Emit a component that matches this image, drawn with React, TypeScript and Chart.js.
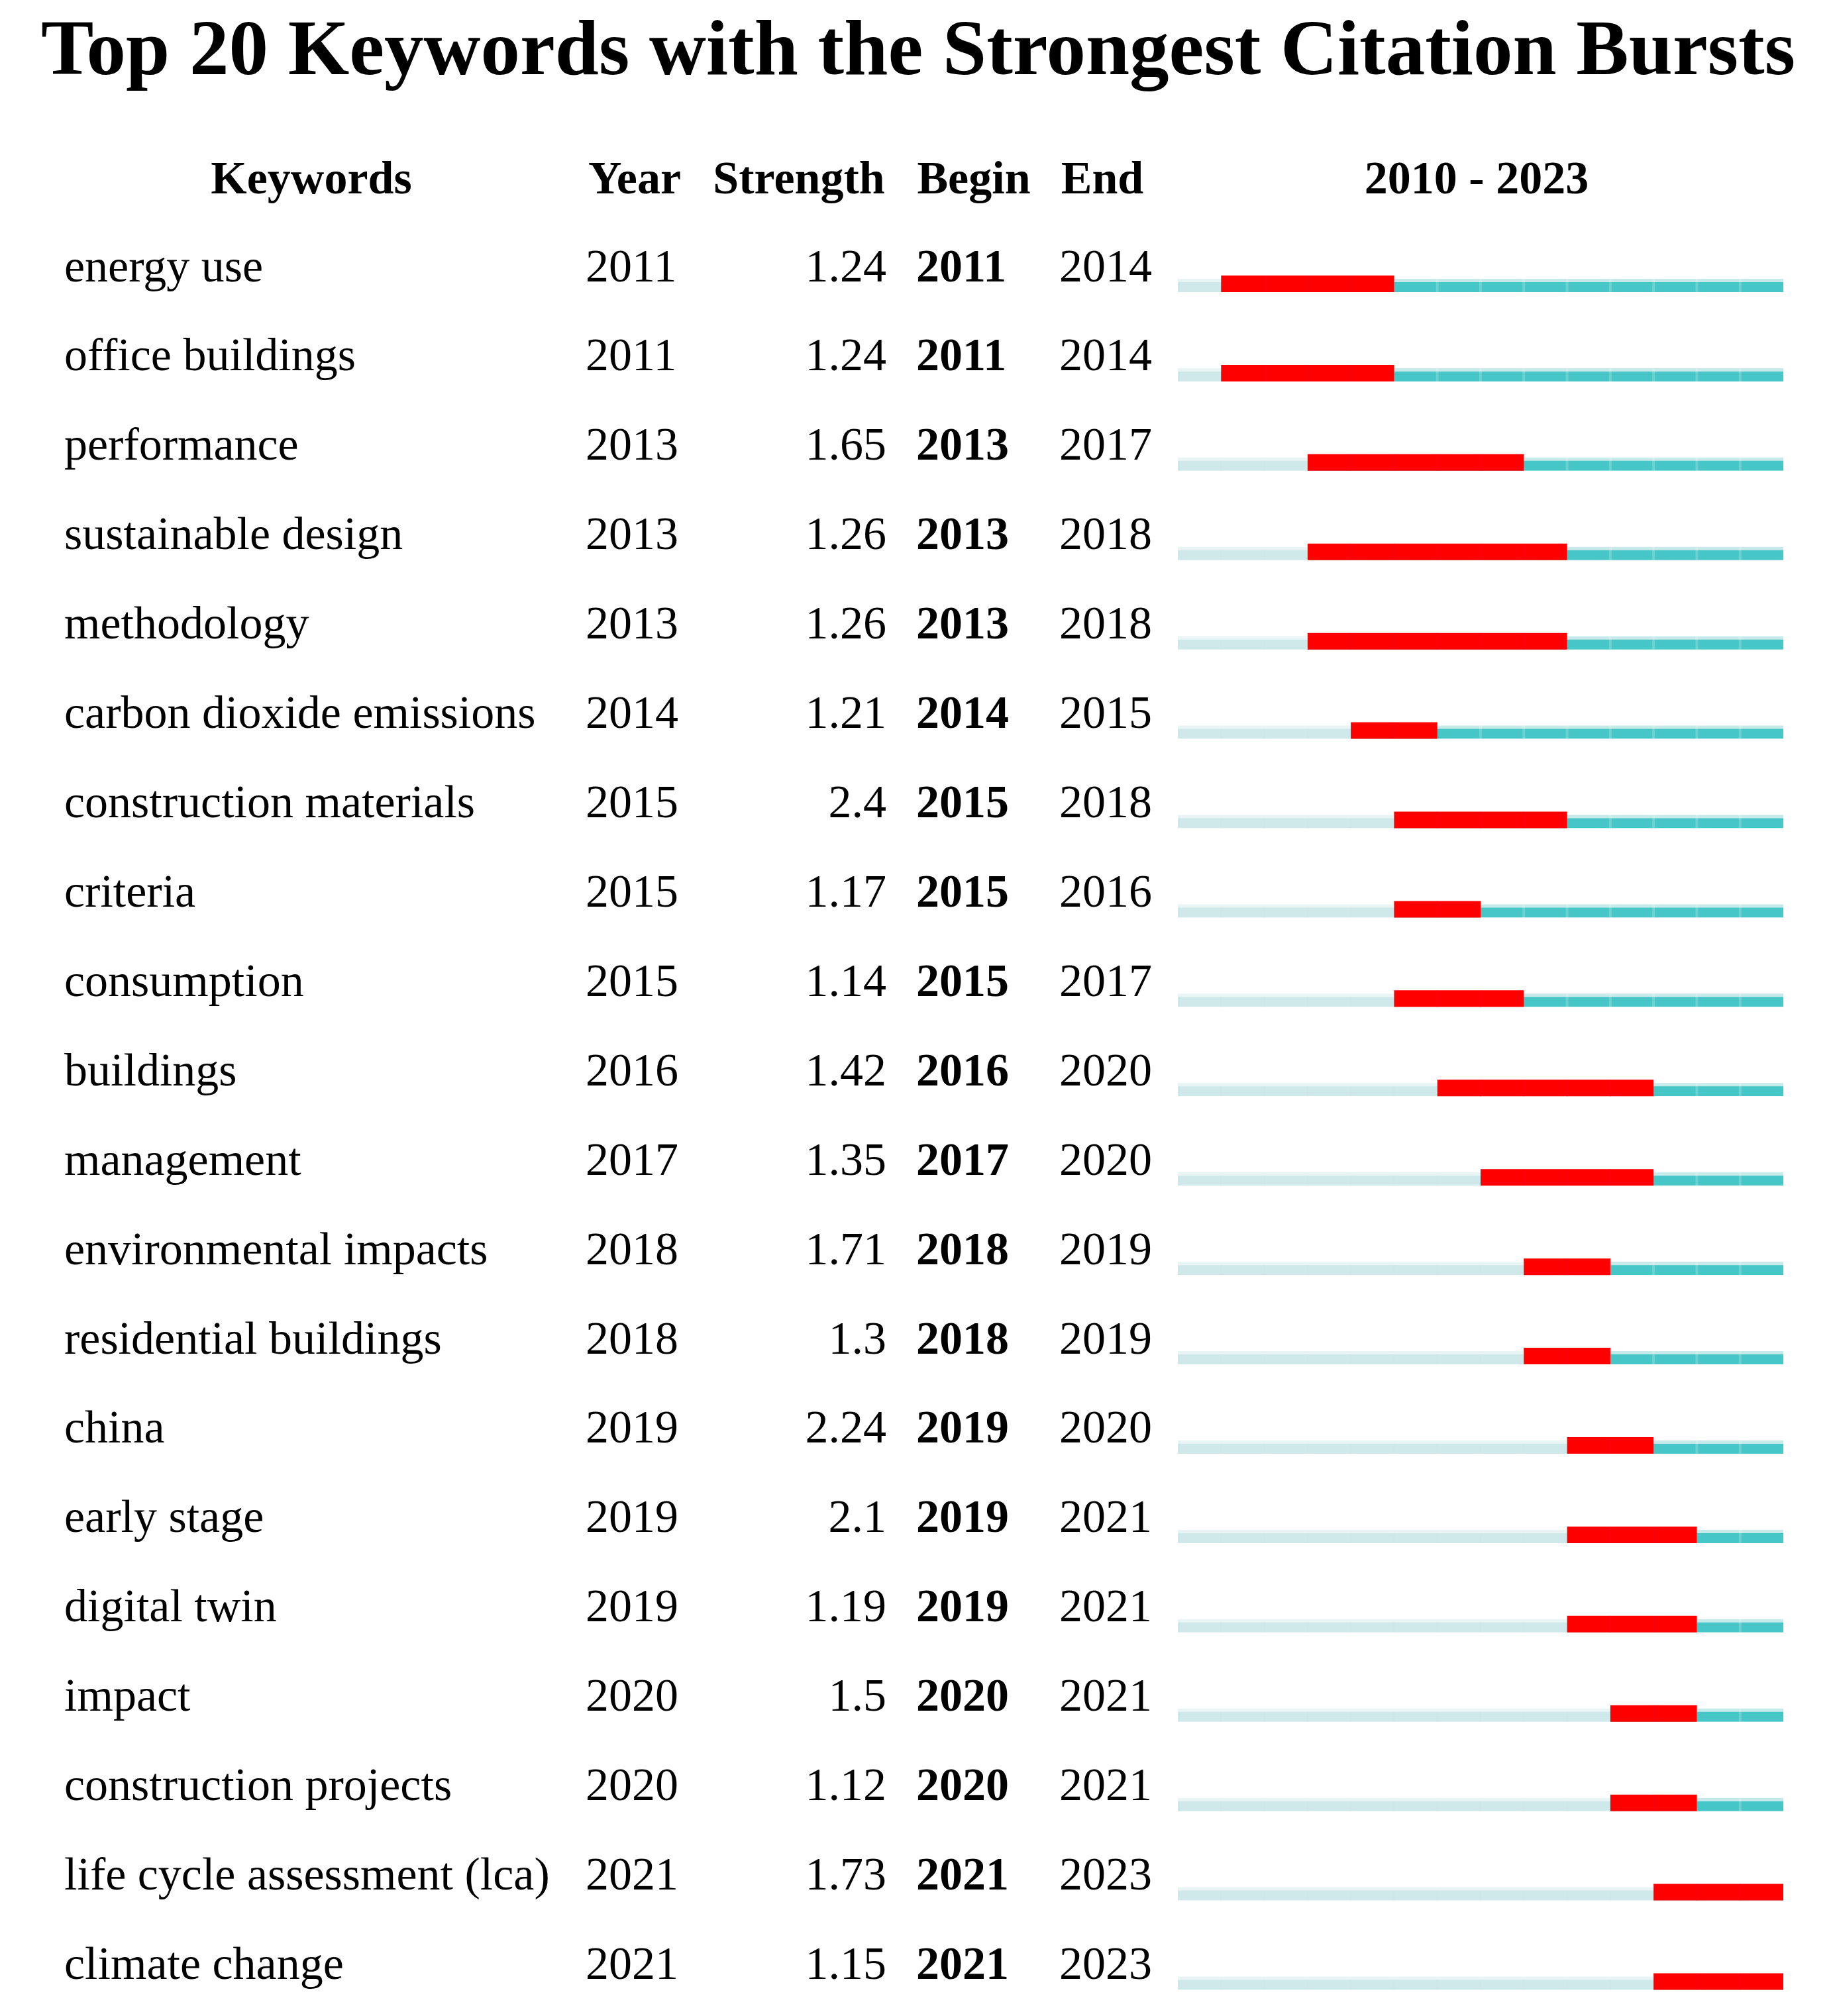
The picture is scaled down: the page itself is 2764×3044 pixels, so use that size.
import React, { useEffect, useRef } from "react";
import { Chart, registerables } from "chart.js";

Chart.register(...registerables);

const TITLE = "Top 20 Keywords with the Strongest Citation Bursts";
const headerLabels = ["Keywords", "Year", "Strength", "Begin", "End", "2010 - 2023"];

const keywords = [
  "energy use",
  "office buildings",
  "performance",
  "sustainable design",
  "methodology",
  "carbon dioxide emissions",
  "construction materials",
  "criteria",
  "consumption",
  "buildings",
  "management",
  "environmental impacts",
  "residential buildings",
  "china",
  "early stage",
  "digital twin",
  "impact",
  "construction projects",
  "life cycle assessment (lca)",
  "climate change",
];
const years = [2011, 2011, 2013, 2013, 2013, 2014, 2015, 2015, 2015, 2016, 2017, 2018, 2018, 2019, 2019, 2019, 2020, 2020, 2021, 2021];
const strengths = ["1.24", "1.24", "1.65", "1.26", "1.26", "1.21", "2.4", "1.17", "1.14", "1.42", "1.35", "1.71", "1.3", "2.24", "2.1", "1.19", "1.5", "1.12", "1.73", "1.15"];
const begins = [2011, 2011, 2013, 2013, 2013, 2014, 2015, 2015, 2015, 2016, 2017, 2018, 2018, 2019, 2019, 2019, 2020, 2020, 2021, 2021];
const ends = [2014, 2014, 2017, 2018, 2018, 2015, 2018, 2016, 2017, 2020, 2020, 2019, 2019, 2020, 2021, 2021, 2021, 2021, 2023, 2023];
const firstYear = 2010;
const lastYear = 2023;

const W = 2764;
const H = 3044;
const FONT = '"Liberation Serif", "Times New Roman", serif';

const COLORS = {
  light: "#cfe9ea",
  lightPale: "#e9f5f5",
  teal: "#47c6c7",
  tealPale: "#c6e9e9",
  red: "#ff0000",
  sepLight: "rgba(205,225,225,0.3)",
  sepTeal: "rgba(255,255,255,0.2)",
  sepRed: "rgba(235,0,50,0.4)",
};

// year-cell separators, drawn over the bars through the chart's scales
const separatorPlugin = {
  id: "yearSeparators",
  afterDatasetsDraw(chart: any) {
    const ctx = chart.ctx as CanvasRenderingContext2D;
    const xs = chart.scales.x;
    const ys = chart.scales.y;
    ctx.save();
    keywords.forEach((_, i) => {
      const cy = ys.getPixelForValue(i);
      for (let yr = firstYear + 1; yr <= lastYear; yr++) {
        const px = xs.getPixelForValue(yr);
        if (yr < years[i]) {
          ctx.fillStyle = COLORS.sepLight;
          ctx.fillRect(px - 1.5, cy - 2.5, 3, 15);
        } else if (yr > begins[i] && yr < ends[i] + 1) {
          ctx.fillStyle = COLORS.sepRed;
          ctx.fillRect(px - 1, cy - 12.5, 2, 25);
        } else if (yr > ends[i] + 1) {
          ctx.fillStyle = COLORS.sepTeal;
          ctx.fillRect(px - 2, cy - 7.5, 4, 20);
        }
      }
    });
    ctx.restore();
  },
};

const textPlugin = {
  id: "burstTable",
  afterDraw(chart: any) {
    const ctx = chart.ctx as CanvasRenderingContext2D;
    const yScale = chart.scales.y;
    ctx.save();
    ctx.fillStyle = "#000";
    ctx.textBaseline = "alphabetic";

    ctx.font = `bold 119px ${FONT}`;
    ctx.textAlign = "left";
    ctx.fillText(TITLE, 62, 112);

    ctx.font = `bold 70px ${FONT}`;
    ctx.textAlign = "center";
    const headerX = [470, 958, 1206, 1470, 1664, 2229];
    headerLabels.forEach((h, i) => ctx.fillText(h, headerX[i], 292));

    keywords.forEach((k, i) => {
      const y = yScale.getPixelForValue(i) - 4;
      ctx.font = `70px ${FONT}`;
      ctx.textAlign = "left";
      ctx.fillText(k, 97, y);
      ctx.fillText(String(years[i]), 884, y);
      ctx.textAlign = "right";
      ctx.fillText(strengths[i], 1338, y);
      ctx.textAlign = "left";
      ctx.font = `bold 70px ${FONT}`;
      ctx.fillText(String(begins[i]), 1383, y);
      ctx.font = `70px ${FONT}`;
      ctx.fillText(String(ends[i]), 1599, y);
    });
    ctx.restore();
  },
};

export default function App() {
  const ref = useRef<HTMLCanvasElement | null>(null);

  useEffect(() => {
    if (!ref.current) return;
    const lightSpans = keywords.map((k, i) => ({ y: k, x: [firstYear, years[i]] }));
    const tealSpans = keywords.map((k, i) => ({ y: k, x: [years[i], lastYear + 1] }));
    const burstSpans = keywords.map((k, i) => ({ y: k, x: [begins[i], ends[i] + 1] }));

    const common = {
      grouped: false,
      barThickness: 25,
      clip: false as any,
      borderSkipped: false as any,
      inflateAmount: 0,
    };

    const chart = new Chart(ref.current, {
      type: "bar",
      data: {
        labels: keywords,
        datasets: [
          {
            ...common,
            label: "burst",
            data: burstSpans as any,
            backgroundColor: COLORS.red,
            borderWidth: 0,
            order: 0,
          },
          {
            ...common,
            label: "after",
            data: tealSpans as any,
            backgroundColor: COLORS.teal,
            borderColor: "rgba(0,0,0,0)",
            borderWidth: { top: 10, left: 0, right: 0, bottom: 0 },
            order: 1,
          },
          {
            ...common,
            label: "afterPale",
            data: tealSpans as any,
            backgroundColor: COLORS.tealPale,
            borderColor: "rgba(0,0,0,0)",
            borderWidth: { top: 5, left: 0, right: 0, bottom: 0 },
            order: 2,
          },
          {
            ...common,
            label: "before",
            data: lightSpans as any,
            backgroundColor: COLORS.light,
            borderColor: "rgba(0,0,0,0)",
            borderWidth: { top: 10, left: 0, right: 0, bottom: 0 },
            order: 1,
          },
          {
            ...common,
            label: "beforePale",
            data: lightSpans as any,
            backgroundColor: COLORS.lightPale,
            borderColor: "rgba(0,0,0,0)",
            borderWidth: { top: 5, left: 0, right: 0, bottom: 0 },
            order: 2,
          },
        ],
      },
      options: {
        indexAxis: "y",
        responsive: false,
        maintainAspectRatio: false,
        devicePixelRatio: 1,
        animation: false,
        layout: { padding: { left: 1778, right: W - 2692, top: 428.5, bottom: H - 2992 } },
        scales: {
          x: { type: "linear", min: firstYear, max: lastYear + 1, display: false },
          y: { type: "category", labels: keywords, offset: false, display: false },
        },
        plugins: {
          legend: { display: false },
          tooltip: { enabled: false },
          title: { display: false },
        },
      },
      plugins: [separatorPlugin, textPlugin],
    });
    return () => chart.destroy();
  }, []);

  return (
    <div style={{ position: "absolute", left: 0, top: 0, width: W, height: H, background: "#fff" }}>
      <canvas ref={ref} width={W} height={H} style={{ display: "block", width: W, height: H }} />
    </div>
  );
}
